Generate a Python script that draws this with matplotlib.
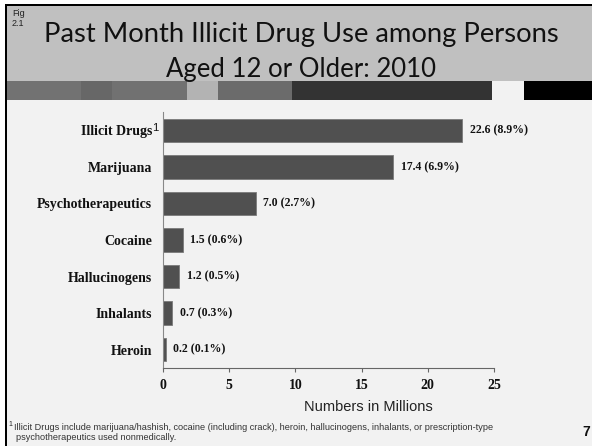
import matplotlib
matplotlib.use("Agg")
import matplotlib.pyplot as plt
from matplotlib.patches import Rectangle

# Past-month illicit drug use, persons aged 12+, 2010
categories = ["Illicit Drugs", "Marijuana", "Psychotherapeutics", "Cocaine",
              "Hallucinogens", "Inhalants", "Heroin"]
millions = [22.6, 17.4, 7.0, 1.5, 1.2, 0.7, 0.2]
percents = [8.9, 6.9, 2.7, 0.6, 0.5, 0.3, 0.1]
x_ticks = [0, 5, 10, 15, 20, 25]

title_lines = ["Past Month Illicit Drug Use among Persons", "Aged 12 or Older: 2010"]
x_label = "Numbers in Millions"
footnote_lines = [
    "Illicit Drugs include marijuana/hashish, cocaine (including crack), heroin, "
    "hallucinogens, inhalants, or prescription-type",
    "psychotherapeutics used nonmedically.",
]

W, H = 592, 446
fig = plt.figure(figsize=(W / 100, H / 100), dpi=100)
fig.patch.set_facecolor("white")


def box(x0, y0, x1, y1, color, z=0):
    """Rectangle given in pixel coordinates measured from the top-left corner."""
    fig.add_artist(Rectangle((x0 / W, 1 - y1 / H), (x1 - x0) / W, (y1 - y0) / H,
                             transform=fig.transFigure, facecolor=color,
                             edgecolor="none", zorder=z))


# slide background, title band and decorative stripe row
box(7, 100, W, H, "#f2f2f2")
box(7, 6, W, 81, "#c0c0c0")
stripes = [(7, 81, "#727272"), (81, 112, "#676767"), (112, 187, "#717171"),
           (187, 218, "#b3b3b3"), (218, 292, "#6b6b6b"), (292, 492, "#333333"),
           (492, 524, "#f2f2f2"), (524, W, "#000000")]
for x0, x1, c in stripes:
    box(x0, 81, x1, 100, c)
box(5, 4, W, 6, "#000000", 1)
box(5, 4, 7, H, "#000000", 1)

# slide title
fig.text(12 / W, 1 - 16 / H, "Fig", fontsize=6.5, family="Liberation Sans", color="#222")
fig.text(12 / W, 1 - 26 / H, "2.1", fontsize=6.5, family="Liberation Sans", color="#222")
for txt, base, size in zip(title_lines, [42, 77], [19.7, 18.5]):
    fig.text(301 / W, 1 - base / H, txt, ha="center", va="baseline",
             fontsize=size, family="Lato", color="#111")

# bar chart
ax = fig.add_axes([163 / W, 1 - 368 / H, 331 / W, 256 / H])
ax.set_facecolor("none")
ypos = list(range(len(categories)))
ax.barh(ypos, millions, height=0.64, color="#505050", edgecolor="#7a7a7a", linewidth=0.6)
ax.set_xlim(0, 25)
ax.set_ylim(len(categories) - 0.5, -0.5)

serif_bold = dict(family="Liberation Serif", weight="bold", color="#111")
ax.set_yticks(ypos)
ax.set_yticklabels(categories, fontsize=10, **serif_bold)
ax.set_xticks(x_ticks)
ax.set_xticklabels([str(t) for t in x_ticks], fontsize=10, **serif_bold)
ax.tick_params(axis="y", length=0, pad=8)
ax.tick_params(axis="x", length=3, direction="out", color="#666666", pad=5)
for s in ["top", "right"]:
    ax.spines[s].set_visible(False)
ax.spines["left"].set_color("#888888")
ax.spines["bottom"].set_color("#666666")

for i, (v, p) in enumerate(zip(millions, percents)):
    ax.annotate(f"{v:.1f} ({p:.1f}%)", xy=(v, i), xytext=(5.5, 0),
                textcoords="offset points", ha="left", va="center",
                fontsize=8.5, **serif_bold)

# footnote marker on the first category
ax.annotate("1", xy=(0, 0), xycoords=ax.get_yaxis_transform(), xytext=(-7.5, 1.5),
            textcoords="offset points", ha="left", va="center",
            fontsize=8, family="Liberation Sans", color="#111")

fig.text(368 / W, 1 - 407 / H, x_label, ha="center", va="center",
         fontsize=10.5, family="Liberation Sans", color="#222")

# footnote and page number
fig.text(8 / W, 1 - 424 / H, "1", fontsize=5, family="Liberation Sans",
         color="#222", va="center")
fig.text(14 / W, 1 - 427 / H, footnote_lines[0], fontsize=6.55,
         family="Liberation Sans", color="#333", va="center")
fig.text(16 / W, 1 - 437 / H, footnote_lines[1], fontsize=6.55,
         family="Liberation Sans", color="#333", va="center")
fig.text(586 / W, 1 - 432 / H, "7", fontsize=10, weight="bold",
         family="Liberation Sans", color="#111", ha="center", va="center")

fig.savefig("out.png", dpi=100)
